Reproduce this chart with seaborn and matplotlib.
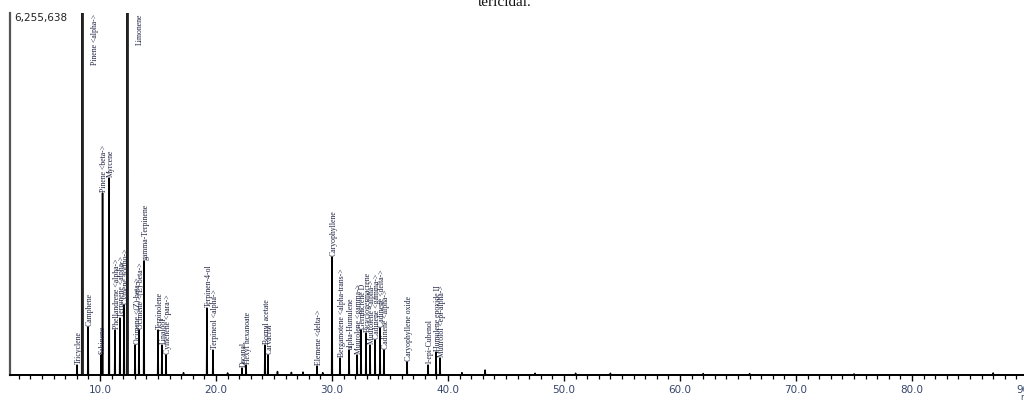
import matplotlib
matplotlib.use("Agg")
import matplotlib.pyplot as plt
from matplotlib.ticker import MultipleLocator, FuncFormatter
import seaborn as sns
import pandas as pd

# ---- data (retention time in min, intensity in counts) ----
FULL_SCALE = 6255638
ret_times = [8.02, 8.45, 8.97, 10.09, 10.22, 10.78, 11.29, 11.72, 12.07, 12.33,
             13.02, 13.36, 13.79, 15.00, 15.34, 15.69, 19.22, 19.74, 22.24, 22.59,
             24.22, 24.48, 28.71, 30.00, 30.69, 31.47, 32.16, 32.50, 32.93, 33.28,
             33.71, 34.14, 34.48, 36.47, 38.28, 38.97, 39.31]
intensities = [173000, 12000000, 829000, 346000, 3145000, 3404000, 778000, 985000, 1210000, 9000000,
               518000, 778000, 1970000, 778000, 518000, 346000, 1158000, 432000, 121000, 173000,
               518000, 346000, 156000, 2039000, 294000, 432000, 346000, 778000, 726000, 518000,
               605000, 812000, 432000, 225000, 173000, 397000, 294000]
compounds = ["Tricyclene", "Pinene <alpha->", "Camphene", "Sabinene", "Pinene <beta->", "Myrcene",
             "Phellandrene <alpha->", "Terpinene <alpha->", "Cymene <ortho->", "Limonene",
             "Ocimene <(Z)-beta->", "Ocimene <(E)-beta->", "gamma-Terpinene", "Terpinolene",
             "Linalool", "Cymenene <para->", "Terpinen-4-ol", "Terpineol <alpha->", "Decanal",
             "Hexyl hexanoate", "Bornyl acetate", "Carvacrol", "Elemene <delta->", "Caryophyllene",
             "Bergamotene <alpha-trans->", "alpha-Humulene", "Muurolene <gamma->", "Germacrene D",
             "Bicyclogermacrene", "Muurolene <alpha->", "Cadinene <gamma->", "Cadinene <delta->",
             "Cadinene <alpha->", "Caryophyllene oxide", "1-epi-Cubenol", "Humulene epoxide II",
             "Muurolol <epi-alpha->"]
# small unlabeled peaks on the baseline
minor_times = [17.2, 21.0, 25.3, 26.5, 27.5, 29.2, 41.2, 43.2, 47.5, 51.0, 54.0, 62.0, 66.0, 75.0, 87.0]
minor_heights = [40000, 35000, 60000, 45000, 50000, 40000, 40000, 86000, 30000, 30000, 30000, 25000,
                 25000, 20000, 35000]
x_ticks = [10.0, 20.0, 30.0, 40.0, 50.0, 60.0, 70.0, 80.0, 90.0]

# ---- build the stick trace (baseline - apex - baseline for each peak) ----
all_t = ret_times + minor_times
all_h = intensities + minor_heights
order = sorted(range(len(all_t)), key=lambda i: all_t[i])
tr_x, tr_y = [2.2], [0]
for i in order:
    t, h = all_t[i], all_h[i]
    tr_x += [t - 0.03, t, t + 0.03]
    tr_y += [0, h, 0]
tr_x.append(91.5)
tr_y.append(0)
trace = pd.DataFrame({"time": tr_x, "intensity": tr_y})

sns.set_theme(style="white")
plt.rcParams["font.family"] = ["DejaVu Sans"]

fig = plt.figure(figsize=(10.24, 4.0), dpi=100)
px_l, px_r, px_b, px_t = 10, 1040, 375, 13
ax = fig.add_axes([px_l / 1024, 1 - px_b / 400, (px_r - px_l) / 1024, (px_b - px_t) / 400])

sns.lineplot(data=trace, x="time", y="intensity", ax=ax, sort=False, estimator=None,
             color="black", lw=1.1)

# thicker strokes for the off-scale peaks
for t, h in zip(ret_times, intensities):
    if h > FULL_SCALE:
        ax.vlines(t, 0, h, color="#222222", lw=2.0)

ppm = 11.6  # pixels per minute
t0 = 10 + (px_l - 100) / ppm
t1 = 10 + (px_r - 100) / ppm
ax.set_xlim(t0, t1)
ax.set_ylim(0, FULL_SCALE)

# peak labels
for t, h, name in zip(ret_times, intensities, compounds):
    if h > FULL_SCALE:
        ax.annotate(name, xy=(t, FULL_SCALE), xytext=(9.5, -0.5), textcoords="offset points",
                    rotation=90, ha="center", va="top", fontsize=5.6,
                    family="Liberation Serif", color="#1c2140")
    else:
        ax.annotate(name, xy=(t, h), xytext=(1.2, 1.0), textcoords="offset points",
                    rotation=90, ha="center", va="bottom", fontsize=5.6,
                    family="Liberation Serif", color="#1c2140")

ax.text(0.004, 0.985, f"{FULL_SCALE:,}", transform=ax.transAxes, ha="left", va="center",
        fontsize=7.5, color="#222222", family="DejaVu Sans")

# axes styling
sns.despine(ax=ax, top=True, right=True)
ax.spines["left"].set_color("#555555")
ax.spines["left"].set_linewidth(1.6)
ax.spines["bottom"].set_color("black")
ax.spines["bottom"].set_linewidth(1.4)
ax.set_yticks([])
ax.set_xticks(x_ticks)
ax.xaxis.set_major_formatter(FuncFormatter(lambda v, p: f"{v:.1f}"))
ax.xaxis.set_minor_locator(MultipleLocator(1))
ax.tick_params(axis="x", which="major", bottom=True, direction="out", length=4.5, width=1.0,
               color="black", labelsize=7.5, labelcolor="#34456b", pad=2.5)
ax.tick_params(axis="x", which="minor", bottom=True, direction="out", length=2.8, width=0.9,
               color="black")
ax.set_xlabel("")
ax.set_ylabel("")
ax.patch.set_alpha(0)

fig.text(1020 / 1024, 1 - 398 / 400, "min", fontsize=6, color="#34456b", ha="left", va="center")
fig.text(505 / 1024, 1 - 3 / 400, "tericidal.", fontsize=11, family="Liberation Serif",
         color="#111111", ha="center", va="center")

fig.savefig("out.png", dpi=100)
